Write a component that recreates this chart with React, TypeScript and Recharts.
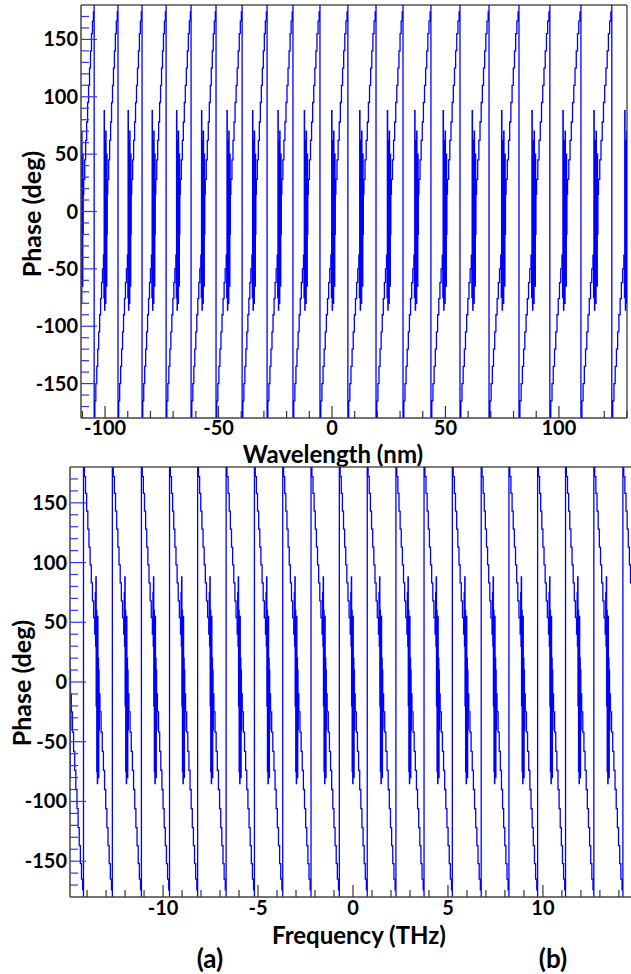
import React from 'react'
import { LineChart, Line, XAxis, YAxis, ReferenceLine } from 'recharts'

// positions where the phase wraps (+180 -> -180 on top, -180 -> +180 below)
const wavelengthWraps = [-115.5, -104.8, -94.3, -83.7, -73.1, -62.1, -51.1, -39.6, -28.6, -17.2, -5.3, 7.0, 19.4, 31.3, 43.6, 56.4, 69.2, 82.4, 96.0, 109.7, 123.3, 136.9]
const frequencyWraps = [-15.68, -14.19, -12.67, -11.14, -9.66, -8.18, -6.68, -5.19, -3.70, -2.21, -0.72, 0.75, 2.26, 3.74, 5.23, 6.75, 8.21, 9.72, 11.19, 12.68, 14.21, 15.70]

// one period of the staircase: [fraction of the period, phase in deg]
const risingShape: [number, number][] = [
  [0, 180], [0, -180], [0.03, -165], [0.07, -150], [0.11, -135], [0.15, -120], [0.19, -105],
  [0.23, -90], [0.27, -76], [0.31, -62], [0.35, -50], [0.39, -38],
  [0.41, -75], [0.42, 88], [0.43, -30], [0.44, -86], [0.45, 62], [0.46, -70], [0.47, 45],
  [0.48, -80], [0.49, 70], [0.5, -50], [0.51, 30], [0.52, -65], [0.53, 50], [0.54, -20], [0.55, 15],
  [0.57, 28], [0.61, 45], [0.65, 62], [0.69, 78], [0.73, 95], [0.77, 110], [0.81, 125],
  [0.85, 140], [0.89, 155], [0.93, 166], [0.97, 174],
]
const fallingShape: [number, number][] = [
  [0, -180], [0, 180], [0.03, 172], [0.07, 158], [0.11, 143], [0.15, 128], [0.19, 113],
  [0.23, 98], [0.27, 83], [0.31, 68], [0.35, 54], [0.39, 40],
  [0.41, 75], [0.42, 30], [0.43, 88], [0.44, -20], [0.45, 60], [0.46, -75], [0.47, 40],
  [0.48, -85], [0.49, 55], [0.5, -60], [0.51, 20], [0.52, -80], [0.53, 10], [0.54, -40], [0.55, -10],
  [0.57, -25], [0.61, -42], [0.65, -58], [0.69, -74], [0.73, -90], [0.77, -106], [0.81, -122],
  [0.85, -137], [0.89, -152], [0.93, -165], [0.97, -174],
]

const wavelengthTicks = [-110, -100, -90, -80, -70, -60, -50, -40, -30, -20, -10, 0, 10, 20, 30, 40, 50, 60, 70, 80, 90, 100, 110, 120, 130]
const wavelengthLabels = [-100, -50, 0, 50, 100]
const frequencyTicks = [-14, -13, -12, -11, -10, -9, -8, -7, -6, -5, -4, -3, -2, -1, 0, 1, 2, 3, 4, 5, 6, 7, 8, 9, 10, 11, 12, 13, 14]
const frequencyLabels = [-10, -5, 0, 5, 10]
const phaseTicks = [-170, -160, -150, -140, -130, -120, -110, -100, -90, -80, -70, -60, -50, -40, -30, -20, -10, 0, 10, 20, 30, 40, 50, 60, 70, 80, 90, 100, 110, 120, 130, 140, 150, 160, 170]
const phaseLabels = [-150, -100, -50, 0, 50, 100, 150]

function buildSeries(wraps: number[], shape: [number, number][]) {
  const out: { x: number; phase: number }[] = []
  for (let i = 0; i < wraps.length - 1; i++) {
    const s = wraps[i]
    const w = wraps[i + 1] - s
    shape.forEach(([f, p]) => out.push({ x: s + f * w, phase: p }))
  }
  return out
}

const topData = buildSeries(wavelengthWraps, risingShape)
const bottomData = buildSeries(frequencyWraps, fallingShape)

const FONT = 'Lato, "DejaVu Sans", sans-serif'
const BLUE = '#0000ff'

const makeXTick = (labels: number[], labelDy: number) => (props: any) => {
  const { x, y, payload } = props
  const major = labels.includes(payload.value)
  return (
    <g>
      <line x1={x} x2={x} y1={y} y2={y - (major ? 12 : 7)} stroke="#333" strokeWidth={1.2} />
      {major && (
        <text x={x} y={y + labelDy} textAnchor="middle" fontFamily={FONT} fontWeight="bold" fontSize={20} fill="#000">
          {payload.value}
        </text>
      )}
    </g>
  )
}

const makeYTick = (labelDx: number) => (props: any) => {
  const { x, y, payload } = props
  const major = phaseLabels.includes(payload.value)
  return (
    <g>
      <line x1={x} x2={x + (major ? 16 : 8)} y1={y} y2={y} stroke="#3333ff" strokeWidth={1.2} />
      {major && (
        <text x={x - labelDx} y={y + 7} textAnchor="end" fontFamily={FONT} fontWeight="bold" fontSize={20} fill="#000">
          {payload.value}
        </text>
      )}
    </g>
  )
}

const textLabel = (x: number, y: number, text: string, rotate = false, size = 25) => ({
  content: () => (
    <text
      x={x}
      y={y}
      textAnchor="middle"
      transform={rotate ? `rotate(-90 ${x} ${y})` : undefined}
      fontFamily={FONT}
      fontWeight="bold"
      fontSize={size}
      fill="#000"
    >
      {text}
    </text>
  ),
})

export default function App() {
  return (
    <div style={{ position: 'fixed', left: 0, top: 0, width: 631, height: 974, overflow: 'hidden', background: '#fff' }}>
      <div style={{ position: 'absolute', left: 0, top: 0 }}>
        <LineChart width={631} height={474} data={topData} margin={{ top: 5, right: 4, left: 0, bottom: 0 }}>
          <XAxis
            dataKey="x"
            type="number"
            domain={[-110.6, 130]}
            allowDataOverflow
            ticks={wavelengthTicks}
            interval={0}
            tickSize={0}
            tickMargin={0}
            height={56}
            tick={makeXTick(wavelengthLabels, 17)}
            axisLine={{ stroke: '#444', strokeWidth: 1.5 }}
            label={textLabel(333, 463, 'Wavelength (nm)', false, 24)}
          />
          <YAxis
            type="number"
            domain={[-180, 180]}
            allowDataOverflow
            ticks={phaseTicks}
            interval={0}
            tickSize={0}
            tickMargin={0}
            width={81}
            tick={makeYTick(3)}
            axisLine={{ stroke: '#444', strokeWidth: 1.5 }}
            label={textLabel(41, 214, 'Phase (deg)', true)}
          />
          <ReferenceLine y={180} stroke="#555" strokeWidth={1.5} />
          <ReferenceLine x={130} stroke="#555" strokeWidth={1.5} />
          <Line type="stepAfter" dataKey="phase" stroke={BLUE} strokeWidth={1.3} dot={false} isAnimationActive={false} />
        </LineChart>
      </div>
      <div style={{ position: 'absolute', left: 0, top: 460 }}>
        <LineChart width={640} height={514} data={bottomData} margin={{ top: 7, right: 4, left: 0, bottom: 0 }}>
          <XAxis
            dataKey="x"
            type="number"
            domain={[-14.9, 14.9]}
            allowDataOverflow
            ticks={frequencyTicks}
            interval={0}
            tickSize={0}
            tickMargin={0}
            height={77}
            tick={makeXTick(frequencyLabels, 18)}
            axisLine={{ stroke: '#444', strokeWidth: 1.5 }}
            label={textLabel(359, 484, 'Frequency (THz)', false, 24)}
          />
          <YAxis
            type="number"
            domain={[-180, 180]}
            allowDataOverflow
            ticks={phaseTicks}
            interval={0}
            tickSize={0}
            tickMargin={0}
            width={70}
            tick={makeYTick(3)}
            axisLine={{ stroke: '#444', strokeWidth: 1.5 }}
            label={textLabel(31, 223, 'Phase (deg)', true)}
          />
          <ReferenceLine y={180} stroke="#555" strokeWidth={1.5} />
          <Line type="stepAfter" dataKey="phase" stroke={BLUE} strokeWidth={1.3} dot={false} isAnimationActive={false} />
        </LineChart>
      </div>
      <div style={{ position: 'absolute', left: 170, width: 80, textAlign: 'center', top: 942, fontFamily: FONT, fontWeight: 'bold', fontSize: 26 }}>(a)</div>
      <div style={{ position: 'absolute', left: 513, width: 80, textAlign: 'center', top: 942, fontFamily: FONT, fontWeight: 'bold', fontSize: 26 }}>(b)</div>
    </div>
  )
}
